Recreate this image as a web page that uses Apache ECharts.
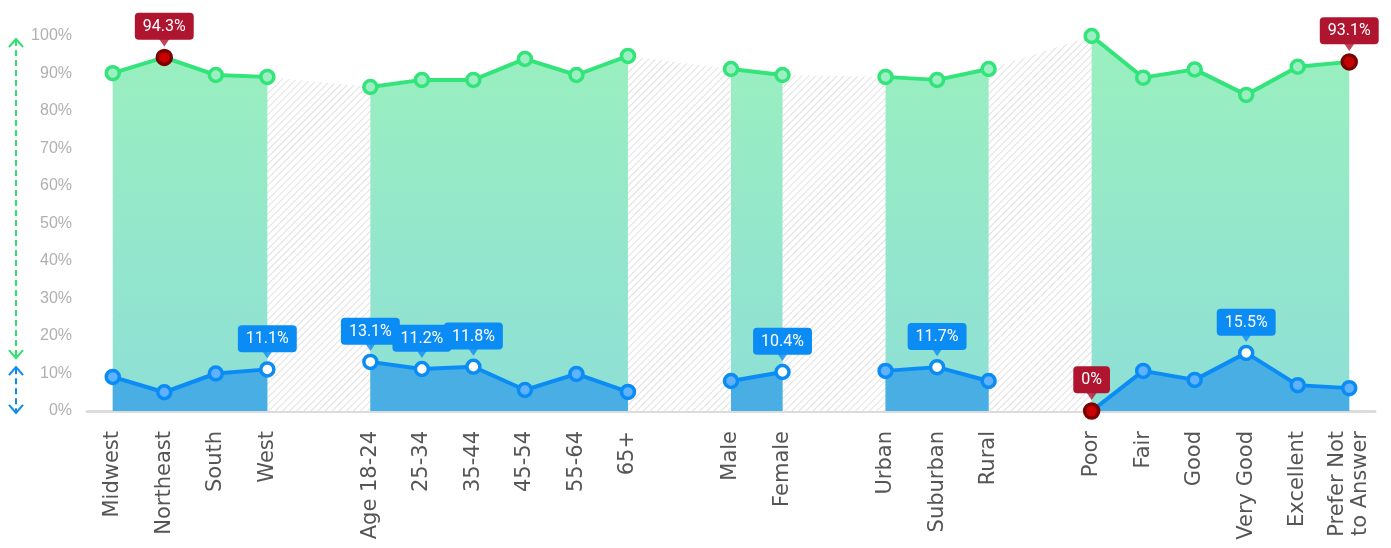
<!DOCTYPE html>
<html>
<head>
<meta charset="utf-8">
<script src="https://cdn.jsdelivr.net/npm/echarts@6/dist/echarts.min.js"></script>
<style>
html,body{margin:0;padding:0;background:#fff;}
#chart{width:1391px;height:548px;}
</style>
</head>
<body>
<div id="chart"></div>
<script>
const categories = ['Midwest','Northeast','South','West','',
  'Age 18-24','25-34','35-44','45-54','55-64','65+','',
  'Male','Female','',
  'Urban','Suburban','Rural','',
  'Poor','Fair','Good','Very Good','Excellent','Prefer Not\nto Answer'];
const greenValues = [90.1,94.3,89.6,89.1,null,
  86.4,88.3,88.3,93.9,89.6,94.7,null,
  91.2,89.6,null,
  89.1,88.3,91.2,null,
  100,88.9,91.1,84.3,91.8,93.1];
const blueValues = [9.1,5.0,10.0,11.1,null,
  13.1,11.2,11.8,5.6,9.9,5.1,null,
  8.0,10.4,null,
  10.7,11.7,8.0,null,
  0,10.7,8.3,15.5,6.9,6.1];
const greenRedTagged = ['Northeast','Prefer Not\nto Answer'];
const blueRedTagged = ['Poor'];
const blueTagged = ['West','Age 18-24','25-34','35-44','Female','Suburban','Very Good'];
const yTickMin = 0, yTickMax = 100, yTickStep = 10;
// decorative range arrows on the left (value ranges)
const greenArrowRange = [99.2, 14.1];
const blueArrowRange = [11.7, -0.5];

const GREEN = '#32e47a', GREEN_FILL = '#9cefc2';
const BLUE = '#0b8cf5', BLUE_FILL = '#60b2ff';
const RED_TAG = '#b01530', RED_BORDER = '#7d0000', RED_FILL = '#c80000';

function tagLabel(bg) {
  return {
    show: true, position: 'top', distance: 9,
    formatter: p => p.value + '%',
    color: '#fff', fontFamily: 'Roboto', fontSize: 16, lineHeight: 18,
    backgroundColor: bg, borderRadius: 4, padding: [5, 8, 4, 8]
  };
}

function buildData(values, redList, tagList, lineColor) {
  return values.map((v, i) => {
    const c = categories[i];
    if (v === null) return null;
    if (redList.includes(c)) {
      return { value: v, symbolSize: 14, itemStyle: { color: RED_FILL, borderColor: RED_BORDER }, label: tagLabel(RED_TAG) };
    }
    if (tagList.includes(c)) {
      return { value: v, itemStyle: { color: '#fff', borderColor: lineColor }, label: tagLabel(lineColor) };
    }
    return { value: v };
  });
}

function pointerData(values, redList, tagList, color) {
  const out = [];
  values.forEach((v, i) => {
    const c = categories[i];
    if (v === null) return;
    if (redList.includes(c)) out.push({ value: [c, v], itemStyle: { color: RED_TAG } });
    else if (tagList.includes(c)) out.push({ value: [c, v], itemStyle: { color: color } });
  });
  return out;
}

const chart = echarts.init(document.getElementById('chart'), null, { renderer: 'canvas' });

const option = {
  animation: false,
  grid: { left: 87, right: 16, top: 36, bottom: 137 },
  xAxis: {
    type: 'category', data: categories, boundaryGap: true,
    axisTick: { show: false },
    axisLine: { lineStyle: { color: '#dcdcdc', width: 3 } },
    axisLabel: {
      interval: 0, rotate: 90, margin: 20,
      fontFamily: 'DejaVu Sans', fontSize: 21, lineHeight: 23, color: '#555'
    }
  },
  yAxis: {
    type: 'value', min: yTickMin, max: yTickMax, interval: yTickStep,
    axisLine: { show: false }, axisTick: { show: false }, splitLine: { show: false },
    axisLabel: { formatter: '{value}%', fontFamily: 'Liberation Sans', fontSize: 16, color: '#b0b0b0', margin: 15 }
  },
  series: [
    {
      name: 'hatch', type: 'line', data: greenValues, connectNulls: true,
      symbol: 'none', lineStyle: { width: 0, opacity: 0 }, z: 1,
      itemStyle: { color: '#ffffff', decal: {
        symbol: 'rect', symbolSize: 1, color: 'rgba(0,0,0,0.12)',
        dashArrayX: [1, 0], dashArrayY: [1, 4], rotation: -Math.PI / 4
      } },
      areaStyle: { color: '#ffffff', opacity: 1 }
    },
    {
      name: 'green', type: 'line', z: 2,
      data: buildData(greenValues, greenRedTagged, [], GREEN),
      connectNulls: false,
      symbol: 'circle', symbolSize: 13, showSymbol: true,
      lineStyle: { color: GREEN, width: 4 },
      itemStyle: { color: GREEN_FILL, borderColor: GREEN, borderWidth: 3.5 },
      areaStyle: { opacity: 1, color: new echarts.graphic.LinearGradient(0, 0, 0, 1, [
        { offset: 0, color: '#9af0be' }, { offset: 1, color: '#8edfd6' }
      ]) }
    },
    {
      name: 'blue', type: 'line', z: 3,
      data: buildData(blueValues, blueRedTagged, blueTagged, BLUE),
      connectNulls: false,
      symbol: 'circle', symbolSize: 13, showSymbol: true,
      lineStyle: { color: BLUE, width: 4 },
      itemStyle: { color: BLUE_FILL, borderColor: BLUE, borderWidth: 3.5 },
      areaStyle: { opacity: 1, color: '#48aee3' }
    },
    {
      name: 'pointers', type: 'scatter', z: 4, silent: true,
      symbol: 'path://M0,0 L10,0 L5,8 Z', symbolSize: [11, 8], symbolOffset: [0, -15],
      data: pointerData(greenValues, greenRedTagged, [], GREEN)
        .concat(pointerData(blueValues, blueRedTagged, blueTagged, BLUE))
    }
  ]
};
chart.setOption(option);

function arrowGraphic(range, color) {
  const yTop = chart.convertToPixel({ gridIndex: 0 }, [0, range[0]])[1];
  const yBot = chart.convertToPixel({ gridIndex: 0 }, [0, range[1]])[1];
  const x = 16, w = 7, h = 8;
  const st = { stroke: color, lineWidth: 2, fill: null };
  return [
    { type: 'line', shape: { x1: x, y1: yTop + 1, x2: x, y2: yBot - 1 }, style: Object.assign({ lineDash: [6, 4] }, st) },
    { type: 'polyline', shape: { points: [[x - w, yTop + h], [x, yTop], [x + w, yTop + h]] }, style: st },
    { type: 'polyline', shape: { points: [[x - w, yBot - h], [x, yBot], [x + w, yBot - h]] }, style: st }
  ];
}
chart.setOption({ graphic: arrowGraphic(greenArrowRange, '#2fe070').concat(arrowGraphic(blueArrowRange, '#0b8cf5')) });
</script>
</body>
</html>
